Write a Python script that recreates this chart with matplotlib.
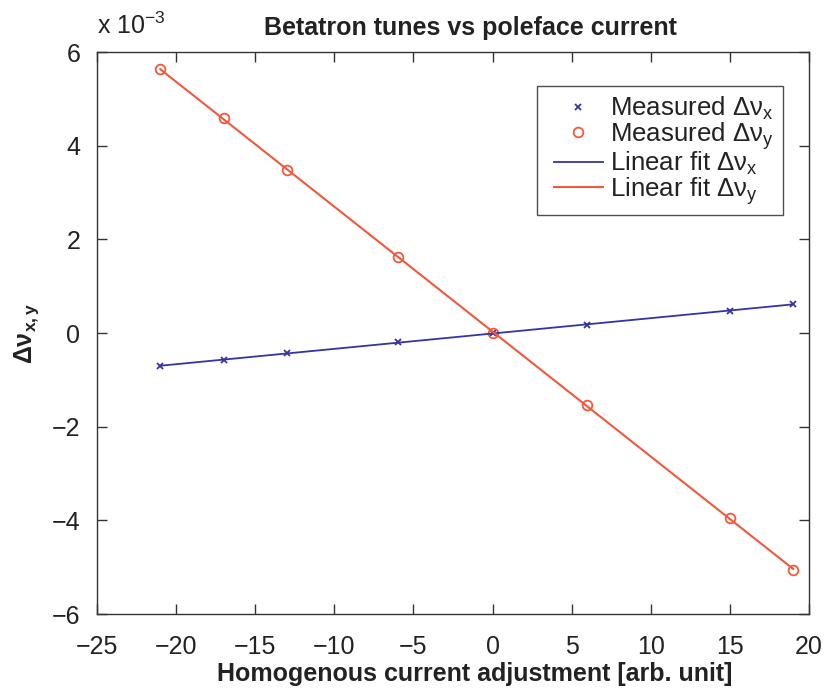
import numpy as np
import matplotlib
matplotlib.use("Agg")
import matplotlib.pyplot as plt
from matplotlib.lines import Line2D
from matplotlib.legend_handler import HandlerLine2D

plt.rcParams['font.family'] = ['Liberation Sans', 'DejaVu Sans']
plt.rcParams['mathtext.fontset'] = 'custom'
plt.rcParams['mathtext.rm'] = 'Liberation Sans'
plt.rcParams['mathtext.bf'] = 'Liberation Sans:bold'
plt.rcParams['mathtext.it'] = 'Liberation Sans:italic'

# Current adjustment settings and measured tune shifts (units of 1e-3)
current = [-21, -17, -13, -6, 0, 6, 15, 19]
dnu_x = [-0.70, -0.58, -0.43, -0.19, 0.0, 0.18, 0.47, 0.62]
dnu_y = [5.64, 4.59, 3.48, 1.62, 0.0, -1.54, -3.94, -5.06]

xticks = [-25, -20, -15, -10, -5, 0, 5, 10, 15, 20]
yticks = [-6, -4, -2, 0, 2, 4, 6]

blue = '#3434a6'
red = '#f2583c'
txt = '#222222'
FS = 18

fig = plt.figure(figsize=(8.25, 6.95), dpi=100)
ax = fig.add_axes([0.1176, 0.1165, 0.8630, 0.8085])

x = np.array(current, dtype=float)
px = np.polyfit(x, dnu_x, 1)
py = np.polyfit(x, dnu_y, 1)
xf = np.array([x.min(), x.max()])

ax.plot(x, dnu_x, 'x', color=blue, ms=5, mew=1.3, label='Measured Δν$_\\mathregular{x}$')
ax.plot(x, dnu_y, 'o', color=red, mfc='none', ms=7, mew=1.3, label='Measured Δν$_\\mathregular{y}$')
ax.plot(xf, np.polyval(px, xf), '-', color=blue, lw=1.3, label='Linear fit Δν$_\\mathregular{x}$')
ax.plot(xf, np.polyval(py, xf), '-', color=red, lw=1.5, label='Linear fit Δν$_\\mathregular{y}$')

ax.set_xlim(-25, 20)
ax.set_ylim(-6, 6)
ax.set_xticks(xticks)
ax.set_yticks(yticks)
ax.set_xticklabels([str(v).replace('-', '\u2212') for v in xticks])
ax.set_yticklabels([str(v).replace('-', '\u2212') for v in yticks])
ax.tick_params(direction='in', top=True, right=True, length=7, width=1.0,
               labelsize=FS, colors='#333333', labelcolor=txt)
ax.tick_params(axis='x', pad=15)
ax.tick_params(axis='y', pad=12)
for s in ax.spines.values():
    s.set_color('#333333')
    s.set_linewidth(1.0)

ax.set_title('Betatron tunes vs poleface current', fontsize=FS, fontweight='bold',
             color=txt, pad=12, x=0.524)
ax.set_xlabel('Homogenous current adjustment [arb. unit]', fontsize=FS,
              fontweight='bold', color=txt, labelpad=6)
ax.xaxis.set_label_coords(0.53, -0.085)
ax.set_ylabel('Δν$_\\mathbf{x,y}$', fontsize=FS, fontweight='bold', color=txt, labelpad=8)
ax.text(0.0, 1.024, 'x 10$^{\\mathregular{-3}}$', transform=ax.transAxes,
        fontsize=FS, color=txt, ha='left', va='bottom')

leg = ax.legend(loc='upper right', bbox_to_anchor=(0.9635, 0.9395), fontsize=18.6,
                frameon=True, fancybox=False, handlelength=2.2, handletextpad=0.3,
                labelspacing=-0.08, borderpad=0.34, borderaxespad=0.0,
                handler_map={Line2D: HandlerLine2D(xpad=0.32)})
leg.get_frame().set_edgecolor('#222222')
leg.get_frame().set_linewidth(1.0)
for t in leg.get_texts():
    t.set_color(txt)

fig.savefig('out.png', dpi=100, facecolor='white')
